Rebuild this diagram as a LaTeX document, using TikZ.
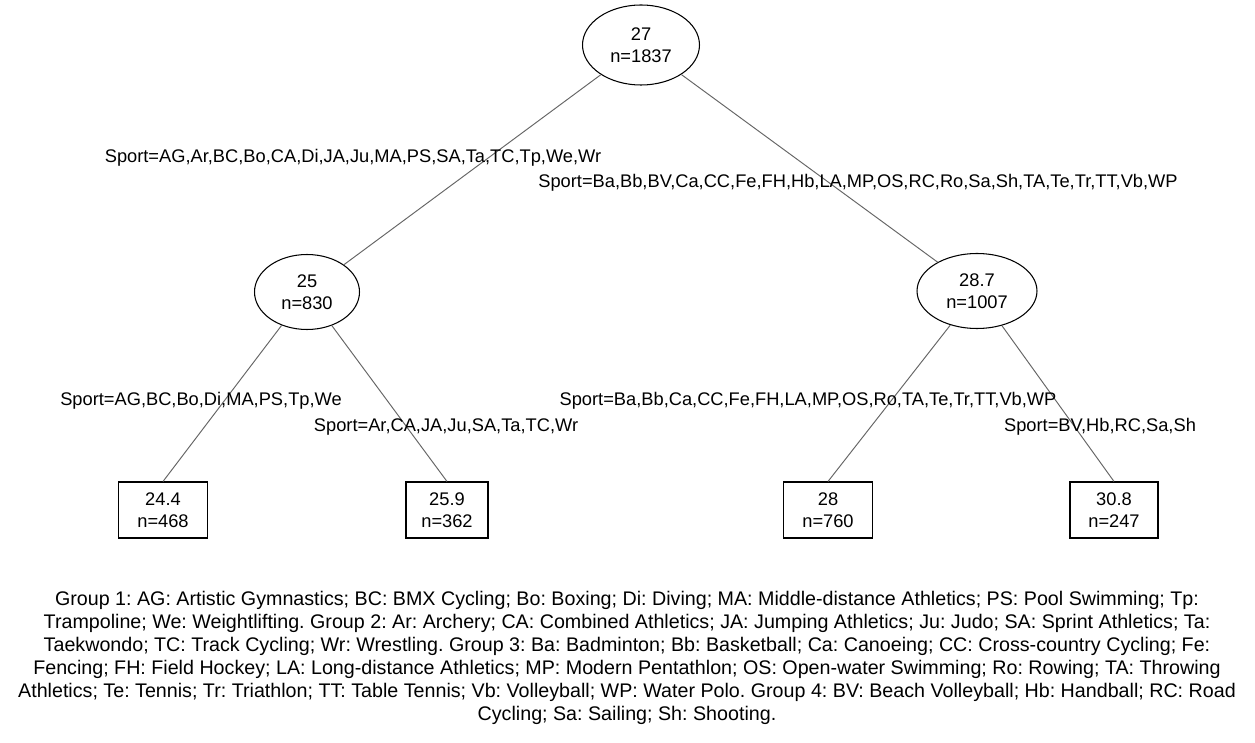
\documentclass[tikz,border=0pt]{standalone}
\usepackage{fontspec}
\setmainfont{Liberation Sans}
\usetikzlibrary{shapes.geometric}
\tikzset{
    splitNode/.style={
        draw,
        ellipse,
        line width=0.6pt,
        align=center,
        inner sep=0pt,
        minimum width=2.1cm,
        minimum height=1.5cm
    },
    leafNode/.style={
        draw,
        rectangle,
        line width=0.6pt,
        align=center,
        inner sep=0pt,
        minimum width=1.78cm,
        minimum height=1.12cm
    },
    splitEdge/.style={
        draw=black!60,
        line width=0.55pt
    },
    splitLabel/.style={
        inner sep=0pt
    }
}

\begin{document}
\frenchspacing
\begin{tikzpicture}[x=0.02cm,y=-0.02cm,font=\fontsize{10.4}{12.2}\selectfont]
    \useasboundingbox (0,0) rectangle (1255,743);

    \node[splitNode,minimum width=2.34cm,minimum height=1.6cm] (root) at (641,45) {27\\n=1837};
    \node[splitNode] (grpA) at (307,292) {25\\n=830};
    \node[splitNode,minimum width=2.4cm] (grpB) at (977,291) {28.7\\n=1007};

    \node[leafNode] (leafA) at (163,510) {24.4\\n=468};
    \node[leafNode,minimum width=1.64cm] (leafB) at (447,510) {25.9\\n=362};
    \node[leafNode] (leafC) at (828,510) {28\\n=760};
    \node[leafNode,minimum width=1.76cm] (leafD) at (1114,510) {30.8\\n=247};

    \draw[splitEdge] (root) -- (grpA);
    \draw[splitEdge] (root) -- (grpB);
    \draw[splitEdge] (grpA) -- (leafA.north);
    \draw[splitEdge] (grpA) -- (leafB.north);
    \draw[splitEdge] (grpB) -- (leafC.north);
    \draw[splitEdge] (grpB) -- (leafD.north);

    \node[splitLabel] (labA) at (353,158) {Sport=AG,Ar,BC,Bo,CA,Di,JA,Ju,MA,PS,SA,Ta,TC,Tp,We,Wr};
    \node[splitLabel] (labB) at (858,183) {Sport=Ba,Bb,BV,Ca,CC,Fe,FH,Hb,LA,MP,OS,RC,Ro,Sa,Sh,TA,Te,Tr,TT,Vb,WP};
    \node[splitLabel] (labAA) at (201,401) {Sport=AG,BC,Bo,Di,MA,PS,Tp,We};
    \node[splitLabel] (labAB) at (446,427) {Sport=Ar,CA,JA,Ju,SA,Ta,TC,Wr};
    \node[splitLabel] (labBA) at (808,401) {Sport=Ba,Bb,Ca,CC,Fe,FH,LA,MP,OS,Ro,TA,Te,Tr,TT,Vb,WP};
    \node[splitLabel] (labBB) at (1100,427) {Sport=BV,Hb,RC,Sa,Sh};

    \node[align=center,inner sep=0pt,font=\fontsize{11.2}{13}\selectfont] (legend) at (627,658) {Group 1: AG: Artistic Gymnastics; BC: BMX Cycling; Bo: Boxing; Di: Diving; MA: Middle-distance Athletics; PS: Pool Swimming; Tp:\\
        Trampoline; We: Weightlifting. Group 2: Ar: Archery; CA: Combined Athletics; JA: Jumping Athletics; Ju: Judo; SA: Sprint Athletics; Ta:\\
        Taekwondo; TC: Track Cycling; Wr: Wrestling. Group 3: Ba: Badminton; Bb: Basketball; Ca: Canoeing; CC: Cross-country Cycling; Fe:\\
        Fencing; FH: Field Hockey; LA: Long-distance Athletics; MP: Modern Pentathlon; OS: Open-water Swimming; Ro: Rowing; TA: Throwing\\
        Athletics; Te: Tennis; Tr: Triathlon; TT: Table Tennis; Vb: Volleyball; WP: Water Polo. Group 4: BV: Beach Volleyball; Hb: Handball; RC: Road\\
        Cycling; Sa: Sailing; Sh: Shooting.};
\end{tikzpicture}
\end{document}
